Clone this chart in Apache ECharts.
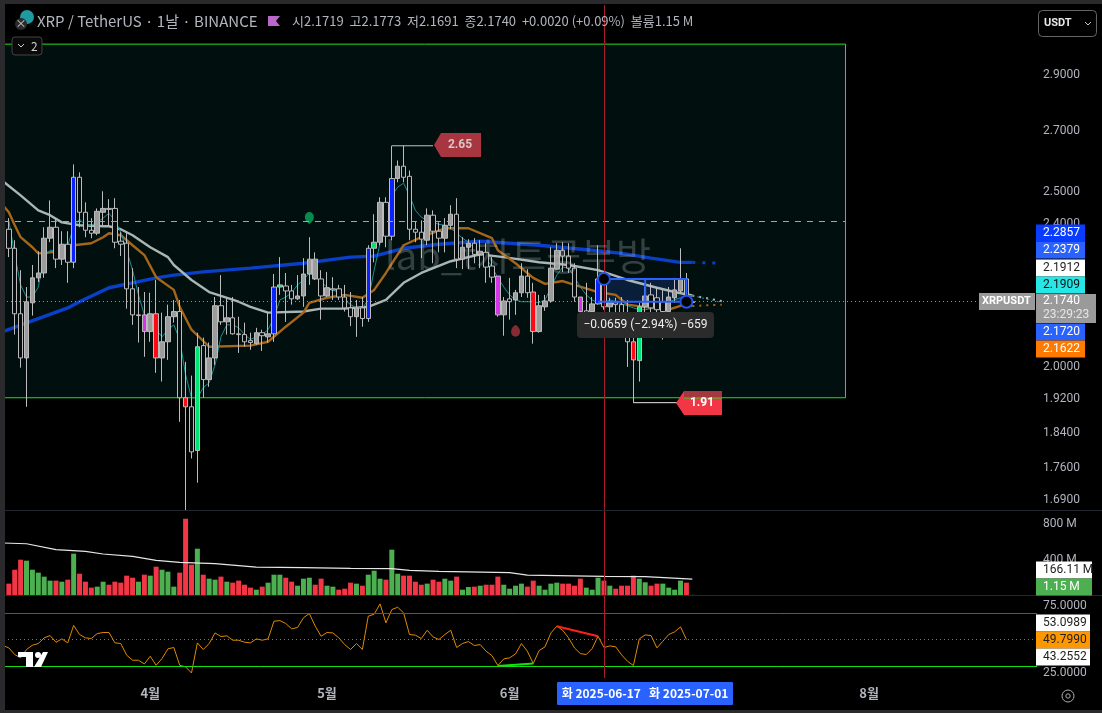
<!DOCTYPE html>
<html><head><meta charset="utf-8">
<style>html,body{margin:0;padding:0;background:#000}#c{width:1102px;height:713px}</style>
<script src="https://cdn.jsdelivr.net/npm/echarts@6/dist/echarts.min.js"></script>
</head><body><div id="c"></div>
<script>
const startDate = '2025-03-07';
const slotCount = 176;
const monthLabels = {'2025-04-01':'4월','2025-05-01':'5월','2025-06-01':'6월','2025-07-01':'7월','2025-08-01':'8월'};
const priceTicks = [2.9,2.7,2.5,2.4,2.0,1.92,1.84,1.76,1.69];
const volumeTicks = [400,800];
const rsiTicks = [25,75];
// open, close, low, high
const candles = [
[2.384,2.327,2.301,2.418],[2.327,2.141,2.085,2.351],[2.141,2.024,1.999,2.263],[2.024,2.174,1.902,2.215],[2.171,2.241,2.136,2.278],
[2.241,2.255,2.229,2.318],[2.255,2.357,2.241,2.390],[2.357,2.390,2.345,2.473],[2.390,2.295,2.269,2.418],[2.295,2.339,2.278,2.378],
[2.339,2.286,2.227,2.378],[2.286,2.547,2.269,2.589],[2.547,2.436,2.390,2.563],[2.436,2.381,2.360,2.467],[2.381,2.372,2.357,2.418],
[2.372,2.439,2.366,2.448],[2.436,2.448,2.396,2.502],[2.448,2.445,2.393,2.477],[2.448,2.345,2.327,2.480],[2.348,2.339,2.304,2.375],
[2.342,2.210,2.155,2.372],[2.210,2.138,2.111,2.269],[2.138,2.136,2.064,2.215],[2.138,2.093,2.027,2.201],[2.093,2.141,2.066,2.199],
[2.141,2.024,1.986,2.235],[2.024,2.066,1.964,2.144],[2.066,2.133,2.019,2.166],[2.133,2.147,2.117,2.179],[2.147,1.924,1.866,2.179],
[1.924,1.902,1.668,2.014],[1.902,1.796,1.781,1.979],[1.799,2.053,1.727,2.090],[2.056,1.969,1.924,2.077],[1.969,2.024,1.951,2.064],
[2.024,2.163,2.006,2.187],[2.163,2.119,2.111,2.249],[2.119,2.130,2.085,2.182],[2.130,2.087,2.085,2.187],[2.087,2.085,2.037,2.133],
[2.085,2.066,2.053,2.117],[2.069,2.064,2.045,2.090],[2.061,2.090,2.058,2.103],[2.090,2.082,2.042,2.098],[2.079,2.087,2.064,2.144],
[2.087,2.215,2.066,2.252],[2.215,2.221,2.193,2.301],[2.218,2.204,2.119,2.255],[2.204,2.182,2.166,2.221],[2.182,2.190,2.179,2.249],
[2.190,2.252,2.160,2.298],[2.252,2.295,2.221,2.360],[2.295,2.238,2.235,2.315],[2.238,2.190,2.125,2.263],[2.190,2.213,2.187,2.258],
[2.210,2.207,2.179,2.243],[2.210,2.187,2.179,2.221],[2.187,2.157,2.147,2.221],[2.157,2.133,2.108,2.201],[2.133,2.157,2.079,2.179],
[2.157,2.128,2.106,2.187],[2.128,2.327,2.119,2.336],[2.327,2.345,2.286,2.430],[2.345,2.467,2.336,2.483],[2.467,2.363,2.330,2.483],
[2.363,2.543,2.351,2.651],[2.543,2.583,2.531,2.602],[2.583,2.547,2.531,2.651],[2.550,2.384,2.351,2.569],[2.384,2.375,2.345,2.408],
[2.375,2.354,2.298,2.411],[2.351,2.427,2.336,2.448],[2.427,2.378,2.283,2.442],[2.378,2.357,2.315,2.405],[2.357,2.396,2.315,2.418],
[2.396,2.430,2.384,2.458],[2.430,2.295,2.269,2.480],[2.295,2.330,2.266,2.360],[2.330,2.342,2.266,2.354],[2.342,2.309,2.283,2.357],
[2.309,2.318,2.269,2.351],[2.315,2.272,2.227,2.342],[2.275,2.243,2.227,2.301],[2.246,2.138,2.133,2.246],[2.138,2.176,2.082,2.187],
[2.182,2.174,2.125,2.241],[2.179,2.199,2.138,2.207],[2.199,2.246,2.187,2.283],[2.246,2.199,2.185,2.266],[2.201,2.093,2.061,2.227],
[2.093,2.163,2.090,2.193],[2.160,2.176,2.149,2.193],[2.176,2.269,2.171,2.330],[2.266,2.321,2.264,2.342],[2.321,2.304,2.258,2.345],
[2.304,2.269,2.255,2.342],[2.269,2.187,2.174,2.283],[2.187,2.147,2.144,2.187],[2.149,2.133,2.111,2.227],[2.147,2.168,2.138,2.187],
[2.168,2.238,2.166,2.336],[2.227,2.160,2.152,2.249],[2.160,2.171,2.144,2.185],[2.171,2.166,2.133,2.185],[2.166,2.144,2.111,2.187],
[2.144,2.066,2.001,2.179],[2.066,2.019,1.912,2.085],[2.017,2.160,1.964,2.171],[2.160,2.190,2.144,2.215],[2.193,2.157,2.106,2.227],
[2.185,2.152,2.093,2.215],[2.174,2.147,2.072,2.207],[2.147,2.187,2.144,2.215],[2.185,2.207,2.171,2.241],[2.204,2.238,2.199,2.327],
[2.238,2.176,2.174,2.255],[2.1719,2.1740,2.1691,2.1773]];
// h hollow, g grey, b blue, m magenta, r red, n green
const candleKinds = 'hhhggggghg'+'hbhhhgghhh'+'hhhmgrgggh'+'rhnhgghghh'+'hhghgbnhhg'+'ggghghhhhg'+'hbnghbghhh'+'hghhgghggh'+'ghhmghgghr'+'gggghhhmhg'+'bhghhhrngh'+'hhggghg';
const volumes = [128,285,398,387,285,252,207,162,162,150,173,466,240,150,83,94,150,116,150,139,218,195,150,229,218,319,285,263,94,252,860,342,522,229,184,173,207,150,139,162,116,83,60,94,139,229,229,195,150,105,184,195,116,184,105,94,60,71,139,128,105,229,274,184,173,511,240,218,218,150,116,128,173,150,184,162,207,60,90,94,105,116,116,207,116,71,105,128,94,162,105,60,128,139,128,128,105,184,83,60,195,162,105,71,105,105,218,184,143,105,128,128,83,60,162,139,1.15];
const volumeGreen = [3,4,5,6,7,9,11,15,16,22,24,26,27,28,32,34,35,37,42,44,45,46,49,50,51,54,55,59,61,62,63,65,66,71,74,75,77,78,80,84,85,86,87,90,91,92,93,98,99,100,102,107,108,111,112,113,114,116];
const volumeAverage = [[0,586],[4,578],[9,511],[14,492],[17,462],[22,436],[26,391],[30,368],[36,353],[43,315],[51,308],[59,300],[66,297],[69,278],[74,267],[86,252],[89,225],[102,210],[109,207],[117,180]];
const rsiValues = [45.5,43.7,38.7,36.2,42.5,45.7,47,51.3,53,48,50.5,47.5,60.6,53.8,51.3,50.8,54.5,55.3,55.3,47.5,47,38.2,34.4,34.4,31.6,37.4,30.6,35.7,43,44,30.6,29.4,24.8,47.5,42.5,47,55,52.3,52.8,49.5,49.5,48,47.5,50.5,49.5,50.5,63.8,64.3,62.1,58.1,59.1,66.4,69.6,60.1,52.5,55.3,55,51.3,46.2,42.5,47,42.5,67.6,69.1,76.9,62.6,72.6,74.4,70.1,53.8,53.3,50.8,57,52,50,53.8,57,44,47,48.5,45.5,46.2,41.2,37.9,30.4,35.4,36.2,39.2,47,41.2,31.9,41.7,44.5,55,60.1,57,51.3,43.7,39.4,38.7,43.2,52.5,44,45.2,44.5,38.4,33.6,30.4,50.5,53.5,53,43.7,48.7,53.8,55.8,59.6,50];
const maSlow = [[0,2.093],[6,2.128],[11,2.157],[13,2.174],[18,2.213],[22,2.227],[26,2.241],[29,2.249],[34,2.258],[42,2.269],[51,2.283],[59,2.301],[63,2.304],[68,2.327],[74,2.339],[81,2.348],[86,2.342],[91,2.336],[100,2.321],[105,2.312],[110,2.298],[115,2.2857],[117,2.2857]];
const maSlowAhead = [[117,2.2857],[122,2.283]];
const maMid = [[0,2.534],[3,2.489],[6,2.442],[8,2.427],[10,2.405],[13,2.396],[17,2.393],[18,2.393],[20,2.384],[22,2.366],[25,2.330],[28,2.301],[29,2.278],[32,2.235],[35,2.201],[37,2.190],[40,2.174],[42,2.160],[45,2.144],[51,2.147],[54,2.155],[58,2.155],[62,2.160],[65,2.179],[68,2.227],[71,2.255],[76,2.289],[81,2.309],[85,2.301],[91,2.286],[96,2.278],[101,2.263],[106,2.235],[111,2.213],[114,2.201],[117,2.1912]];
const maMidAhead = [[117,2.1912],[122,2.176]];
const maFast = [[0,2.458],[1,2.436],[2,2.396],[3,2.360],[5,2.330],[6,2.312],[8,2.315],[10,2.318],[12,2.336],[15,2.342],[17,2.360],[18,2.372],[20,2.366],[22,2.336],[24,2.307],[26,2.243],[29,2.207],[30,2.160],[32,2.098],[35,2.053],[42,2.056],[45,2.066],[48,2.106],[51,2.144],[52,2.171],[55,2.185],[58,2.193],[61,2.185],[63,2.207],[65,2.255],[68,2.336],[71,2.360],[75,2.387],[79,2.387],[83,2.357],[84,2.321],[87,2.283],[90,2.241],[92,2.224],[95,2.232],[97,2.221],[101,2.201],[104,2.193],[106,2.166],[110,2.157],[113,2.152],[116,2.168],[117,2.1622]];
const maFastAhead = [[117,2.1622],[122,2.166]];
const trendLine = [2.411,2.307,2.221,2.187,2.187,2.215,2.301,2.321,2.321,2.315,2.336,2.390,2.415,2.396,2.396,2.405,2.418,2.433,2.411,2.375,2.321,2.263,2.193,2.138,2.125,2.098,2.079,2.098,2.111,2.072,1.981,1.924,1.924,1.949,1.961,2.006,2.079,2.111,2.111,2.103,2.085,2.072,2.079,2.085,2.098,2.130,2.179,2.187,2.199,2.221,2.235,2.255,2.243,2.229,2.215,2.207,2.199,2.179,2.166,2.157,2.157,2.179,2.263,2.342,2.427,2.489,2.515,2.528,2.489,2.442,2.421,2.411,2.405,2.399,2.396,2.387,2.372,2.357,2.345,2.327,2.312,2.298,2.272,2.241,2.215,2.193,2.179,2.174,2.174,2.174,2.171,2.179,2.213,2.249,2.272,2.269,2.243,2.215,2.193,2.179,2.171,2.171,2.179,2.174,2.168,2.163,2.157,2.152,2.152,2.155,2.160,2.168,2.174,2.179,2.185,2.193,2.1909];
const trendAhead = [[117,2.1909],[122,2.172]];

const TXT='#b2b5be', FONT='"Noto Sans CJK KR","Noto Sans",sans-serif', NUM='Roboto,"Noto Sans",sans-serif';
const categories=[]; { const d=new Date(startDate+'T00:00:00Z'); for(let i=0;i<slotCount;i++){categories.push(d.toISOString().slice(0,10)); d.setUTCDate(d.getUTCDate()+1);} }
const crossCat=categories[102];
const CROSS='#a81c2c';
const kindFill={h:'#050d0f',g:'#9c9c9c',b:'#0a22ff',m:'#d535e8',r:'#ff0a14',n:'#00e676'};
const pad=[['-','-','-','-']];
const candleData=pad.concat(candles).map((c,j)=>{ if(j===0) return c; const f=kindFill[candleKinds[j-1]]; return {value:c,itemStyle:{color:f,color0:f,borderColor:'#bcbcbc',borderColor0:'#bcbcbc',borderWidth:1}};});
const volumeData=[null].concat(volumes).map((v,j)=> v===null?null:{value:v,itemStyle:{color:volumeGreen.includes(j-1)?'#4caf50':'#f23645'}});
const line=(name,xi,yi,data,color,width,z,extra)=>Object.assign({name,type:'line',xAxisIndex:xi,yAxisIndex:yi,data,showSymbol:false,symbol:'none',silent:true,z,lineStyle:{color,width},animation:false},extra||{});
const crossLine=()=>({symbol:'none',silent:true,animation:false,label:{show:false},lineStyle:{color:CROSS,width:1,type:'solid'},data:[{xAxis:crossCat}]});
const flat=(v,color,type)=>({yAxis:v,lineStyle:{color,type,width:1}});

const series=[
 {type:'line',xAxisIndex:0,yAxisIndex:0,data:[],z:1,silent:true,
  markArea:{silent:true,animation:false,itemStyle:{color:'#020f0f',borderColor:'#22e022',borderWidth:1},
   data:[[{xAxis:categories[0],yAxis:3.017},{xAxis:categories[143],yAxis:1.924}]]},
  markLine:{symbol:'none',silent:true,animation:false,label:{show:false},data:[
    [{xAxis:categories[0],yAxis:2.408,lineStyle:{color:'#c7a06a',type:[6,6],width:1}},{xAxis:categories[143],yAxis:2.408}],
    [{xAxis:categories[0],yAxis:2.174,lineStyle:{color:'#9a9a9a',type:[1,3],width:1}},{xAxis:categories[166],yAxis:2.174}]]}},
 line('MA slow',0,0,maSlow,'#0a3fc8',3.4,2),
 line('MA slow ahead',0,0,maSlowAhead,'#0a3fc8',3,2,{lineStyle:{color:'#0a3fc8',width:3,type:[3,7]}}),
 line('MA mid',0,0,maMid,'#a9b6b3',2.4,2),
 line('MA mid ahead',0,0,maMidAhead,'#a9b6b3',2,2,{lineStyle:{color:'#a9b6b3',width:2,type:[2,5]}}),
 line('MA fast',0,0,maFast,'#a5661a',2.4,2),
 line('MA fast ahead',0,0,maFastAhead,'#a5661a',2,2,{lineStyle:{color:'#a5661a',width:2,type:[2,5]}}),
 line('Trend',0,0,[null].concat(trendLine),'#14908f',1,2),
 line('Trend ahead',0,0,trendAhead,'#14908f',1,2,{lineStyle:{color:'#14908f',width:1,type:[2,3]}}),
 {type:'candlestick',name:'XRPUSDT',xAxisIndex:0,yAxisIndex:0,data:candleData,barWidth:5,z:3,silent:true,animation:false,markLine:crossLine()},
 line('High tag',0,0,[[66,2.651],[73,2.651]],'#c4c4c4',1,4),
 line('Low tag',0,0,[[107,1.912],[115,1.912]],'#e8e8e8',1,4),
 {type:'scatter',name:'Signals',xAxisIndex:0,yAxisIndex:0,silent:true,z:4,animation:false,symbolSize:[9,12],
  data:[{value:[52,2.418],symbol:'path://M0 5 A5 5 0 0 1 10 5 Q10 9 5 12 Q0 9 0 5Z',itemStyle:{color:'#0aa860'}},
        {value:[87,2.095],symbol:'path://M10 7 A5 5 0 0 1 0 7 Q0 3 5 0 Q10 3 10 7Z',itemStyle:{color:'#a8323c'}}]},
 line('Measure',0,0,[[102,2.238],[116,2.238],[116,2.174],[101,2.174]],'#2962ff',2,5,{
   markArea:{silent:true,animation:false,itemStyle:{color:'rgba(41,98,255,0.18)'},data:[[{xAxis:categories[102],yAxis:2.238},{xAxis:categories[116],yAxis:2.174}]]}}),
 line('Measure mid',0,0,[[109,2.238],[109,2.174]],'#2962ff',2,5),
 {type:'scatter',name:'Measure ends',xAxisIndex:0,yAxisIndex:0,silent:true,z:6,animation:false,symbolSize:12,data:[[102,2.238],[116,2.174]],itemStyle:{color:'#000000',opacity:1,borderColor:'#1f55e8',borderWidth:2}},
 {type:'bar',name:'Volume',xAxisIndex:1,yAxisIndex:1,data:volumeData,barWidth:5,z:2,silent:true,animation:false,markLine:crossLine()},
 line('Volume MA',1,1,volumeAverage,'#e6e6e6',1.2,3),
 line('RSI',2,2,rsiValues,'#e08a00',1,3,{markLine:{symbol:'none',silent:true,animation:false,label:{show:false},data:[flat(70,'#d1232a','solid'),flat(30,'#13e013','solid'),flat(50,'#777',[1,3]),
    {xAxis:crossCat,lineStyle:{color:CROSS,width:1,type:'solid'}}]}}),
 line('RSI bear',2,2,[[94,60.1],[101,52.5]],'#ff1f1f',2,4),
 line('RSI bull',2,2,[[84,30],[90,31.9]],'#13e013',2,4),
];

const axisCommon={axisLine:{show:false},axisTick:{show:false},splitLine:{show:false}};
const xAxis=[0,1,2].map(g=>Object.assign({type:'category',gridIndex:g,data:categories,boundaryGap:true,show:g===2},axisCommon,
  {axisLabel:{interval:(i,v)=>v in monthLabels,formatter:v=>monthLabels[v]||'',color:TXT,fontFamily:FONT,fontSize:13,fontWeight:'bold',margin:9}}));
const yLabel=(ticks,fmt)=>({customValues:ticks,formatter:fmt,color:TXT,fontFamily:NUM,fontSize:12,margin:6,showMinLabel:true,showMaxLabel:true});
const yAxis=[
 Object.assign({type:'log',gridIndex:0,min:1.668,max:3.171,position:'right'},axisCommon,{axisLabel:yLabel(priceTicks,v=>(+v).toFixed(4))}),
 Object.assign({type:'value',gridIndex:1,min:0,max:947,position:'right'},axisCommon,{axisLabel:yLabel(volumeTicks,v=>v+' M')}),
 Object.assign({type:'value',gridIndex:2,min:21,max:82.85,position:'right'},axisCommon,{axisLabel:yLabel(rsiTicks,v=>(+v).toFixed(4))})
];

const rect=(x,y,w,h,fill,r,stroke)=>({type:'rect',z:100,shape:{x,y,width:w,height:h,r:r||0},style:{fill,stroke:stroke||null,lineWidth:1},silent:true});
const text=(x,y,t,color,size,opts)=>({type:'text',z:101,x,y,silent:true,style:Object.assign({text:t,fill:color,font:(opts&&opts.weight||'normal')+' '+size+'px '+(opts&&opts.family||FONT),textAlign:opts&&opts.align||'left',textVerticalAlign:'middle'},{})});
const poly=(pts,fill,z)=>({type:'polygon',z:z||100,shape:{points:pts},style:{fill},silent:true});
const pline=(pts,stroke,w)=>({type:'polyline',z:101,shape:{points:pts},style:{stroke,fill:null,lineWidth:w||1},silent:true});
const badge=(y,t,bg,fg,w)=>[rect(1036,y-8.5,w||49,17,bg),text(1043,y,t,fg,12,{family:NUM})];
const graphic=[
 rect(0,0,1102,4,'#2a2a2d'),rect(0,0,5,713,'#2a2a2d'),rect(0,710,1102,3,'#2a2a2d'),
 rect(5,510,1097,1,'#23272f'),rect(5,595,1097,1,'#23272f'),
 text(385,256,'lab_t차트공부방','rgba(190,200,200,0.27)',38,{}),
 {type:'circle',z:100,shape:{cx:27,cy:17,r:7},style:{fill:'#1f9aa0'},silent:true},
 {type:'circle',z:101,shape:{cx:21,cy:24,r:6},style:{fill:'#2b2b2e'},silent:true},
 text(21,24,'×','#d0d0d0',11,{align:'center'}),
 text(37,21,'XRP / TetherUS · 1날 · BINANCE',TXT,15,{}),
 poly([[268,16],[280,16],[276,21],[280,26],[268,26]],'#b967c8'),
 text(292,21,'시2.1719  고2.1773  저2.1691  종2.1740  +0.0020 (+0.09%)  볼륨1.15 M',TXT,13,{}),
 rect(12,37,30,18,'#0a0a0a',3,'#444'),pline([[18,44],[21,47],[24,44]],'#ccc',1),text(31,46,'2','#d0d0d0',12,{}),
 rect(1038.5,10.5,58,26,'#000',4,'#666'),text(1044,23,'USDT','#e8e8e8',11,{weight:'bold',family:NUM}),pline([[1085,22],[1088,25],[1091,22]],'#ccc',1),
 ...badge(233,'2.2857','#0a3cff','#fff'),...badge(250,'2.2379','#2962ff','#fff'),...badge(268,'2.1912','#fff','#222'),...badge(285,'2.1909','#26e6e6','#111'),
 rect(1036,294,60,29,'#9a9a9a'),text(1043,301,'2.1740','#fff',12,{family:NUM}),text(1043,315,'23:29:23','#e6e6e6',12,{family:NUM}),
 rect(979,293,56,17,'#9a9a9a'),text(982,301.5,'XRPUSDT','#fff',11,{weight:'bold',family:NUM}),
 ...badge(332,'2.1720','#2962ff','#fff'),...badge(349,'2.1622','#ff7a00','#fff'),
 ...badge(570,'166.11 M','#fff','#222',56),...badge(587,'1.15 M','#4caf50','#fff',56),
 ...badge(623,'53.0989','#fff','#222',54),...badge(640,'49.7990','#ff9800','#222',54),...badge(657,'43.2552','#fff','#222',54),
 poly([[434,145],[441,133],[481,133],[481,157],[441,157]],'#a83640'),text(460,145,'2.65','#d9c6c6',12,{align:'center',family:NUM,weight:'bold'}),
 poly([[676,403],[684,391],[722,391],[722,415],[684,415]],'#f23645'),rect(684,391,38,7,'#a83640'),rect(684,397.5,38,1,'#22e022'),text(702,403,'1.91','#fff',12,{align:'center',family:NUM,weight:'bold'}),
 rect(577,312,137,26,'#2b2b2b',4),text(645.5,325,'−0.0659 (−2.94%) −659','#eee',12,{align:'center',family:NUM}),
 rect(557,682,176,23,'#2962ff',1),text(645,693.5,'화 2025-06-17   화 2025-07-01','#fff',12,{align:'center',weight:'bold'}),
 {type:'circle',z:100,shape:{cx:1068,cy:696,r:6},style:{fill:null,stroke:'#aaa',lineWidth:1},silent:true},
 {type:'circle',z:100,shape:{cx:1068,cy:696,r:2.2},style:{fill:null,stroke:'#aaa',lineWidth:1},silent:true},
 poly([[18,652],[33,652],[33,667],[26,667],[26,657],[18,657]],'#fff'),
 {type:'circle',z:100,shape:{cx:38,cy:655,r:3},style:{fill:'#fff'},silent:true},
 poly([[34,667],[41,667],[48,652],[43,652]],'#fff'),
];

const chart=echarts.init(document.getElementById('c'),null,{renderer:'canvas',width:1102,height:713});
chart.setOption({animation:false,backgroundColor:'#000',
 grid:[{left:-1,width:1038,top:5,height:505,containLabel:false},{left:-1,width:1038,top:511,height:84},{left:-1,width:1038,top:596,height:82}],
 xAxis,yAxis,series,graphic});
</script></body></html>
